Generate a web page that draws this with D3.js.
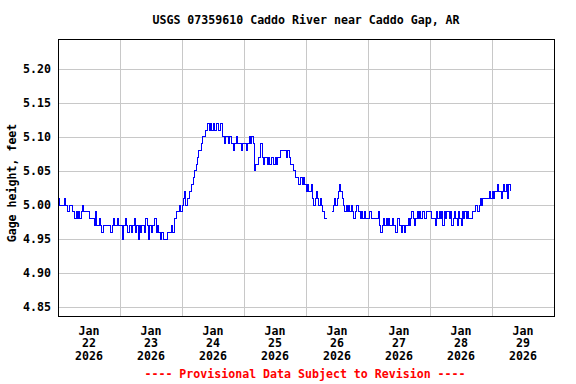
<!DOCTYPE html>
<html>
<head>
<meta charset="utf-8">
<script src="https://d3js.org/d3.v7.min.js"></script>
<style>
    body { margin: 0; background: white; }
    text { font-family: "DejaVu Sans Mono", monospace; font-weight: bold; font-size: 11.6px; }
</style>
</head>
<body>
<div id="gageChart"></div>
<script>
// gage height, feet, every 30 minutes from 00:00 of each day (null = no data)
const jan22 = [5.01,5.00, 5.00,5.00, 5.00,5.01, 5.00,4.99, 4.99,5.00, 5.00,4.99,
    4.99,4.98, 4.99,4.98, 4.99,4.98, 4.99,5.00, 4.99,4.99, 4.99,4.99,
    4.98,4.98, 4.98,4.98, 4.97,4.99, 4.97,4.97, 4.98,4.97, 4.96,4.97,
    4.97,4.97, 4.97,4.97, 4.97,4.96, 4.97,4.98, 4.97,4.97, 4.98,4.97];
const jan23 = [4.97,4.97, 4.95,4.97, 4.98,4.97, 4.96,4.97, 4.97,4.96, 4.97,4.98,
    4.96,4.97, 4.95,4.97, 4.96,4.97, 4.97,4.96, 4.98,4.97, 4.95,4.97,
    4.96,4.97, 4.97,4.98, 4.96,4.97, 4.96,4.95, 4.96,4.96, 4.95,4.95,
    4.95,4.96, 4.96,4.96, 4.97,4.96, 4.98,4.98, 4.99,4.99, 5.00,4.99];
const jan24 = [5.00,5.01, 5.02,5.00, 5.01,5.01, 5.02,5.03, 5.03,5.04, 5.05,5.06,
    5.07,5.08, 5.08,5.09, 5.10,5.10, 5.11,5.11, 5.12,5.11, 5.12,5.11,
    5.12,5.11, 5.11,5.12, 5.11,5.11, 5.12,5.10, 5.10,5.09, 5.10,5.10,
    5.09,5.10, 5.09,5.09, 5.08,5.09, 5.10,5.09, 5.09,5.09, 5.08,5.09];
const jan25 = [5.09,5.09, 5.08,5.09, 5.10,5.09, 5.10,5.09, 5.05,5.06, 5.06,5.07,
    5.07,5.09, 5.07,5.06, 5.07,5.07, 5.06,5.07, 5.06,5.07, 5.07,5.06,
    5.07,5.06, 5.07,5.07, 5.08,5.08, 5.08,5.08, 5.08,5.07, 5.08,5.07,
    5.06,5.06, 5.05,5.05, 5.04,5.04, 5.03,5.03, 5.04,5.03, 5.04,5.03];
const jan26 = [5.02,5.03, 5.02,5.02, 5.03,5.01, 5.00,5.01, 5.02,5.01, 5.00,5.01,
    5.00,4.99, 4.98,4.98, 4.98,null, null,null, 4.99,5.00, 5.01,5.00,
    5.01,5.02, 5.03,5.02, 5.01,5.00, 4.99,5.00, 4.99,5.00, 4.99,5.00,
    4.99,4.98, 4.99,5.00, 5.00,4.99, 4.98,4.99, 4.98,4.99, 4.98,4.98];
const jan27 = [4.98,4.99, 4.99,4.98, 4.98,4.98, 4.98,4.98, 4.99,4.97, 4.96,4.97,
    4.98,4.97, 4.98,4.97, 4.98,4.97, 4.97,4.98, 4.97,4.96, 4.96,4.98,
    4.97,4.97, 4.96,4.97, 4.96,4.97, 4.97,4.98, 4.97,4.98, 4.99,4.98,
    4.97,4.98, 4.99,4.98, 4.99,4.98, 4.99,4.99, 4.98,4.99, 4.99,4.99];
const jan28 = [4.99,4.98, 4.98,4.98, 4.97,4.99, 4.98,4.99, 4.98,4.99, 4.97,4.99,
    4.98,4.99, 4.99,4.98, 4.99,4.97, 4.98,4.99, 4.98,4.97, 4.99,4.98,
    4.97,4.99, 4.98,4.99, 4.98,4.99, 4.98,4.98, 4.98,4.99, 4.99,5.00,
    5.00,4.99, 5.00,5.01, 5.00,5.01, 5.01,5.01, 5.01,5.01, 5.02,5.01];
const jan29 = [5.02,5.01, 5.02,5.02, 5.03,5.02, 5.02,5.01, 5.02,5.03, 5.02,5.03,
    5.01,5.03, 5.02];

const dayValues = [jan22, jan23, jan24, jan25, jan26, jan27, jan28, jan29];
const dayMonths = ["Jan","Jan","Jan","Jan","Jan","Jan","Jan","Jan"];
const dayNumbers = ["22","23","24","25","26","27","28","29"];
const dayYears = ["2026","2026","2026","2026","2026","2026","2026","2026"];
const yTicks = [4.85, 4.90, 4.95, 5.00, 5.05, 5.10, 5.15, 5.20];

const chartTitle = "USGS 07359610 Caddo River near Caddo Gap, AR";
const yTitle = "Gage height, feet";
const footNote = "---- Provisional Data Subject to Revision ----";

const width = 576;
const height = 384;
const plotLeft = 58, plotRight = 554, plotTop = 39, plotBottom = 316;

let svg = d3.select("#gageChart")
    .append("svg")
    .attr("width", width)
    .attr("height", height);

let start = Date.UTC(2026, 0, 22);
let dayMs = 24 * 3600 * 1000;

let x = d3.scaleUtc()
    .domain([new Date(start), new Date(start + 8 * dayMs)])
    .range([plotLeft, plotRight]);

let y = d3.scaleLinear()
    .domain([4.8372, 5.2436])
    .range([plotBottom, plotTop]);

// flatten the day arrays into timed points
let points = [];
dayValues.forEach((vals, i) => {
    vals.forEach((v, j) => {
        points.push({ t: new Date(start + i * dayMs + j * 1800 * 1000), v: v });
    });
});

// grid
let grid = svg.append("g")
    .attr("stroke", "#c8c8c8")
    .attr("stroke-width", 1)
    .attr("shape-rendering", "crispEdges");
grid.selectAll("line.h")
    .data(yTicks)
    .enter().append("line")
    .attr("x1", plotLeft).attr("x2", plotRight)
    .attr("y1", d => Math.round(y(d)) + 0.5)
    .attr("y2", d => Math.round(y(d)) + 0.5);
grid.selectAll("line.v")
    .data(d3.range(1, 8))
    .enter().append("line")
    .attr("y1", plotTop).attr("y2", plotBottom)
    .attr("x1", d => Math.round(x(new Date(start + d * dayMs))) + 0.5)
    .attr("x2", d => Math.round(x(new Date(start + d * dayMs))) + 0.5);

// data line
let line = d3.line()
    .defined(d => d.v !== null)
    .x(d => x(d.t))
    .y(d => y(d.v))
    .curve(d3.curveStepAfter);
svg.append("path")
    .datum(points)
    .attr("fill", "none")
    .attr("stroke", "#0000ff")
    .attr("stroke-width", 1)
    .attr("shape-rendering", "crispEdges")
    .attr("d", line);

// frame
svg.append("rect")
    .attr("x", plotLeft + 0.5).attr("y", plotTop + 0.5)
    .attr("width", plotRight - plotLeft).attr("height", plotBottom - plotTop)
    .attr("fill", "none")
    .attr("stroke", "black")
    .attr("stroke-width", 1)
    .attr("shape-rendering", "crispEdges");

// y tick labels
svg.selectAll("text.ytick")
    .data(yTicks)
    .enter().append("text")
    .attr("x", 51)
    .attr("y", d => y(d) + 4)
    .attr("text-anchor", "end")
    .text(d => d.toFixed(2));

// x labels at the middle of each day
let xl = svg.selectAll("g.xlab")
    .data(dayNumbers)
    .enter().append("g")
    .attr("transform", (d, i) => "translate(" + x(new Date(start + i * dayMs + dayMs / 2)) + ",0)")
    .attr("text-anchor", "middle");
xl.append("text").attr("y", 334.5).text((d, i) => dayMonths[i]);
xl.append("text").attr("y", 347).text(d => d);
xl.append("text").attr("y", 360).text((d, i) => dayYears[i]);

// titles
svg.append("text")
    .attr("x", (plotLeft + plotRight) / 2)
    .attr("y", 24)
    .attr("text-anchor", "middle")
    .text(chartTitle);
svg.append("text")
    .attr("transform", "translate(15.5,183) rotate(-90)")
    .attr("text-anchor", "middle")
    .text(yTitle);
svg.append("text")
    .attr("x", 305)
    .attr("y", 378)
    .attr("text-anchor", "middle")
    .attr("fill", "#ff0000")
    .text(footNote);
</script>
</body>
</html>
